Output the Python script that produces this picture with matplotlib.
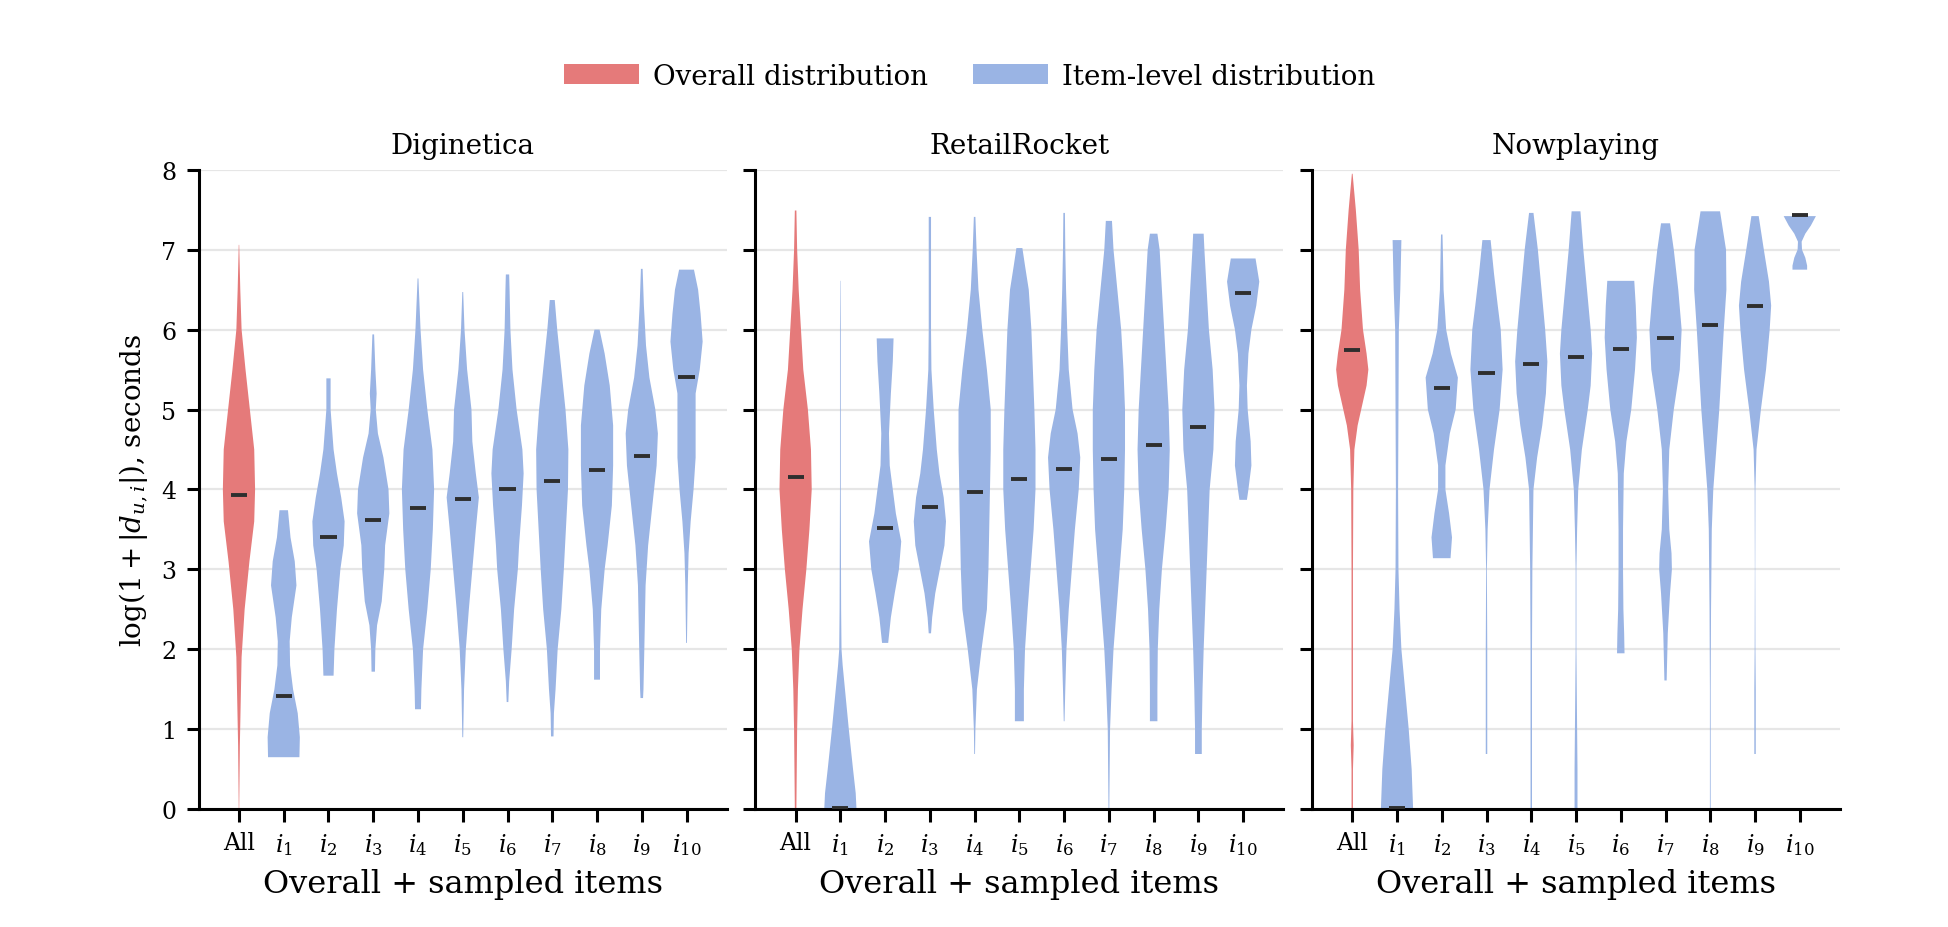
import numpy as np
import matplotlib
matplotlib.use("Agg")
from matplotlib import pyplot as plt
from matplotlib.patches import Patch

plt.rcParams['font.family'] = ['DejaVu Serif']
plt.rcParams['mathtext.fontset'] = 'dejavuserif'

RED = '#e57a7a'
BLUE = '#9ab4e4'

titles = ['Diginetica', 'RetailRocket', 'Nowplaying']
tick_labels = ['All'] + [r'$i_{%d}$' % k for k in range(1, 11)]

# each violin: y knots (log seconds) and relative density
dig_y = [
    [0, 0.8, 1.9, 2.5, 3.1, 3.6, 4.0, 4.5, 5.0, 5.5, 6.0, 6.5, 7.06],
    [0.65, 0.9, 1.2, 1.5, 1.8, 2.1, 2.4, 2.8, 3.1, 3.4, 3.74],
    [1.67, 2.0, 2.5, 3.0, 3.3, 3.6, 3.9, 4.2, 4.5, 5.0, 5.39],
    [1.72, 2.0, 2.3, 2.6, 3.0, 3.3, 3.7, 4.0, 4.4, 4.7, 5.0, 5.2, 5.5, 5.94],
    [1.25, 1.5, 2.0, 2.5, 3.0, 3.5, 4.0, 4.5, 5.0, 5.5, 6.0, 6.64],
    [0.9, 1.5, 2.0, 2.5, 3.0, 3.5, 3.9, 4.2, 4.6, 5.0, 5.5, 6.0, 6.47],
    [1.34, 1.6, 2.0, 2.5, 3.0, 3.3, 3.8, 4.2, 4.5, 5.0, 5.5, 6.0, 6.5, 6.69],
    [0.91, 1.2, 1.5, 2.0, 2.5, 3.0, 3.5, 4.0, 4.5, 5.0, 5.5, 6.0, 6.37],
    [1.62, 2.0, 2.5, 3.0, 3.3, 3.8, 4.3, 4.8, 5.3, 5.7, 6.0],
    [1.39, 1.5, 2.0, 2.8, 3.3, 3.8, 4.3, 4.7, 5.0, 5.4, 5.8, 6.3, 6.76],
    [2.08, 2.8, 3.2, 3.6, 4.0, 4.4, 4.9, 5.2, 5.5, 5.85, 6.2, 6.5, 6.75],
]
dig_d = [
    [0.5, 2, 6, 13, 24, 35, 37, 35, 25, 15, 6, 3, 0.5],
    [37, 38, 33, 22, 15, 14, 19, 30, 26, 16, 10],
    [12, 14, 20, 28, 36, 38, 30, 20, 12, 5, 5],
    [4, 5, 9, 20, 26, 28, 38, 36, 24, 11, 6, 8, 5, 2],
    [7, 8, 12, 22, 30, 35, 38, 34, 22, 12, 6, 1],
    [1, 3, 7, 14, 22, 30, 37, 30, 22, 20, 10, 4, 1],
    [2, 4, 10, 16, 25, 28, 35, 39, 36, 22, 12, 7, 5, 4],
    [3, 4, 8, 13, 22, 28, 33, 38, 39, 32, 22, 12, 6],
    [7, 7, 10, 18, 25, 35, 38, 38, 30, 18, 6],
    [3, 4, 6, 9, 15, 25, 35, 38, 32, 18, 10, 5, 2],
    [1, 3, 5, 10, 17, 22, 22, 22, 32, 39, 34, 28, 18],
]
dig_med = [3.93, 1.42, 3.40, 3.62, 3.77, 3.88, 4.00, 4.11, 4.24, 4.42, 5.41]

ret_y = [
    [0, 0.5, 1.0, 1.5, 2.0, 2.5, 3.0, 3.5, 4.0, 4.5, 5.0, 5.5, 6.0, 6.5, 7.0, 7.49],
    [0, 0.2, 0.5, 1.0, 1.5, 1.8, 2.0, 2.5, 4.0, 6.0, 6.61],
    [2.08, 2.4, 2.7, 3.0, 3.35, 3.7, 4.0, 4.3, 4.7, 5.2, 5.6, 5.89],
    [2.2, 2.4, 2.7, 3.0, 3.3, 3.6, 3.9, 4.2, 4.5, 5.0, 5.5, 6.0, 7.0, 7.41],
    [0.69, 1.0, 1.5, 2.0, 2.5, 3.0, 3.5, 4.0, 4.5, 5.0, 5.5, 6.0, 6.5, 7.0, 7.41],
    [1.1, 1.5, 2.0, 2.5, 3.0, 3.5, 4.0, 4.5, 5.0, 5.5, 6.0, 6.5, 6.8, 7.02],
    [1.1, 1.5, 2.0, 2.5, 3.0, 3.5, 4.0, 4.4, 4.7, 5.0, 5.5, 6.0, 6.5, 7.0, 7.46],
    [0, 0.5, 1.0, 1.5, 2.0, 2.5, 3.0, 3.5, 4.0, 4.5, 5.0, 5.5, 6.0, 6.5, 7.0, 7.36],
    [1.1, 1.5, 2.0, 2.5, 3.0, 3.5, 4.0, 4.5, 5.0, 5.5, 6.0, 6.5, 7.0, 7.2],
    [0.69, 1.0, 1.5, 2.0, 2.5, 3.0, 3.5, 4.0, 4.5, 5.0, 5.5, 6.0, 6.5, 7.0, 7.2],
    [3.87, 4.0, 4.3, 4.6, 5.0, 5.3, 5.7, 6.0, 6.3, 6.6, 6.89],
]
ret_d = [
    [2, 3, 4, 6, 10, 18, 28, 36, 42, 40, 32, 20, 14, 8, 4, 2],
    [42, 40, 33, 22, 12, 6, 3, 2, 1, 1, 0.5],
    [8, 15, 25, 36, 42, 28, 20, 12, 10, 15, 20, 22],
    [3, 6, 14, 26, 38, 42, 36, 25, 18, 10, 4, 3, 3, 3],
    [1, 2, 6, 18, 32, 36, 38, 40, 42, 42, 32, 20, 10, 5, 2],
    [12, 12, 15, 22, 30, 38, 43, 43, 40, 36, 32, 25, 15, 8],
    [1, 3, 6, 12, 20, 28, 38, 42, 35, 22, 12, 8, 5, 3, 2],
    [1, 2, 3, 7, 12, 20, 28, 36, 40, 42, 42, 38, 32, 22, 12, 8],
    [10, 10, 11, 15, 22, 32, 40, 43, 40, 34, 28, 22, 16, 10],
    [9, 9, 11, 14, 18, 22, 26, 30, 40, 43, 38, 28, 22, 16, 14],
    [10, 14, 22, 20, 12, 10, 14, 22, 35, 43, 33],
]
ret_med = [4.16, 0.02, 3.52, 3.78, 3.97, 4.13, 4.26, 4.38, 4.55, 4.78, 6.46]

now_y = [
    [0, 0.5, 0.8, 1.1, 1.5, 2.0, 3.0, 4.0, 4.5, 4.8, 5.0, 5.3, 5.5, 5.7, 6.0, 6.5, 7.0, 7.5, 7.95],
    [0, 0.5, 1.0, 1.5, 2.0, 2.5, 3.0, 4.0, 5.0, 6.0, 6.5, 7.12],
    [3.14, 3.4, 3.7, 4.0, 4.3, 4.7, 5.0, 5.4, 5.7, 6.0, 6.5, 7.0, 7.19],
    [0.69, 1.5, 2.0, 3.0, 3.5, 4.0, 4.5, 5.0, 5.5, 6.0, 6.3, 6.7, 7.12],
    [0, 2.0, 3.0, 4.0, 4.4, 4.8, 5.2, 5.6, 6.0, 6.5, 7.0, 7.46],
    [0, 0.5, 1.0, 2.0, 3.0, 3.5, 4.0, 4.5, 5.0, 5.3, 5.7, 6.0, 6.5, 7.0, 7.48],
    [1.95, 2.2, 2.5, 3.0, 3.5, 4.2, 4.6, 5.0, 5.5, 5.9, 6.3, 6.61],
    [1.61, 2.2, 2.7, 3.0, 3.2, 3.5, 4.0, 4.5, 5.0, 5.5, 6.0, 6.5, 7.0, 7.33],
    [0, 1.5, 2.5, 3.5, 4.0, 4.5, 5.0, 5.5, 6.0, 6.5, 7.0, 7.48],
    [0.69, 1.5, 2.0, 3.0, 4.0, 4.5, 5.0, 5.5, 6.0, 6.3, 6.6, 7.0, 7.42],
    [6.75, 6.8, 6.9, 7.0, 7.1, 7.2, 7.3, 7.42],
]
now_d = [
    [2, 2, 4, 2, 2, 2, 2, 3, 6, 15, 25, 40, 45, 40, 30, 22, 18, 10, 1],
    [44, 40, 32, 22, 12, 7, 4, 3, 4, 5, 9, 12],
    [24, 28, 20, 10, 10, 22, 38, 44, 25, 12, 5, 3, 2],
    [2, 2, 2, 1, 3, 8, 20, 35, 43, 38, 30, 20, 11],
    [2, 2, 3, 6, 16, 30, 40, 44, 38, 28, 18, 6],
    [4, 4, 3, 1, 1, 3, 6, 16, 32, 40, 44, 40, 30, 20, 12],
    [10, 9, 7, 6, 6, 8, 15, 28, 38, 43, 40, 36],
    [3, 6, 12, 17, 16, 10, 7, 10, 22, 38, 43, 34, 22, 12],
    [1, 1, 2, 4, 8, 16, 24, 30, 36, 43, 42, 26],
    [2, 2, 1, 0.5, 1, 4, 16, 30, 40, 44, 38, 24, 10],
    [20, 20, 15, 6, 5, 15, 30, 44],
]
now_med = [5.74, 0.02, 5.27, 5.46, 5.57, 5.66, 5.76, 5.89, 6.06, 6.30, 7.43]

panels = [(dig_y, dig_d, dig_med), (ret_y, ret_d, ret_med), (now_y, now_d, now_med)]

fig, axes = plt.subplots(1, 3, figsize=(9.74, 4.64), dpi=200, sharey=True)
fig.subplots_adjust(left=0.102, right=0.9446, top=0.816, bottom=0.127, wspace=0.054)

pos = np.arange(11)
for ax, title, (ys, ds, meds) in zip(axes, titles, panels):
    stats = []
    for y, d, m in zip(ys, ds, meds):
        stats.append(dict(coords=np.array(y), vals=np.array(d, dtype=float),
                          mean=m, median=m, min=y[0], max=y[-1]))
    parts = ax.violin(stats, positions=pos, widths=0.72, showmeans=False,
                      showextrema=False, showmedians=False)
    for k, body in enumerate(parts['bodies']):
        body.set_facecolor(RED if k == 0 else BLUE)
        body.set_edgecolor('none')
        body.set_alpha(1)
        body.set_zorder(2)
    ax.hlines(meds, pos - 0.18, pos + 0.18, color='#2e2e2e', lw=1.4, zorder=3)

    ax.set_xlim(-0.9, 10.9)
    ax.set_ylim(0, 8)
    ax.set_yticks(range(9))
    ax.set_xticks(pos)
    ax.set_xticklabels(tick_labels)
    ax.grid(axis='y', color='#e6e6e6', lw=0.8, zorder=0)
    ax.set_axisbelow(True)
    for s in ['top', 'right']:
        ax.spines[s].set_visible(False)
    for s in ['left', 'bottom']:
        ax.spines[s].set_linewidth(1.1)
    ax.tick_params(axis='both', length=4.5, width=1.1, labelsize=8.5)
    ax.set_title(title, fontsize=10)
    ax.set_xlabel('Overall + sampled items', fontsize=11.5)

axes[0].set_ylabel(r'$\log(1+|d_{u,i}|)$, seconds', fontsize=10)

handles = [Patch(facecolor=RED, edgecolor='none', label='Overall distribution'),
           Patch(facecolor=BLUE, edgecolor='none', label='Item-level distribution')]
fig.legend(handles=handles, loc='center', bbox_to_anchor=(0.4977, 0.917), ncol=2,
           frameon=False, fontsize=10, handlelength=2.7, handleheight=0.75,
           handletextpad=0.5, columnspacing=1.6)

fig.savefig('out.png', dpi=200)
